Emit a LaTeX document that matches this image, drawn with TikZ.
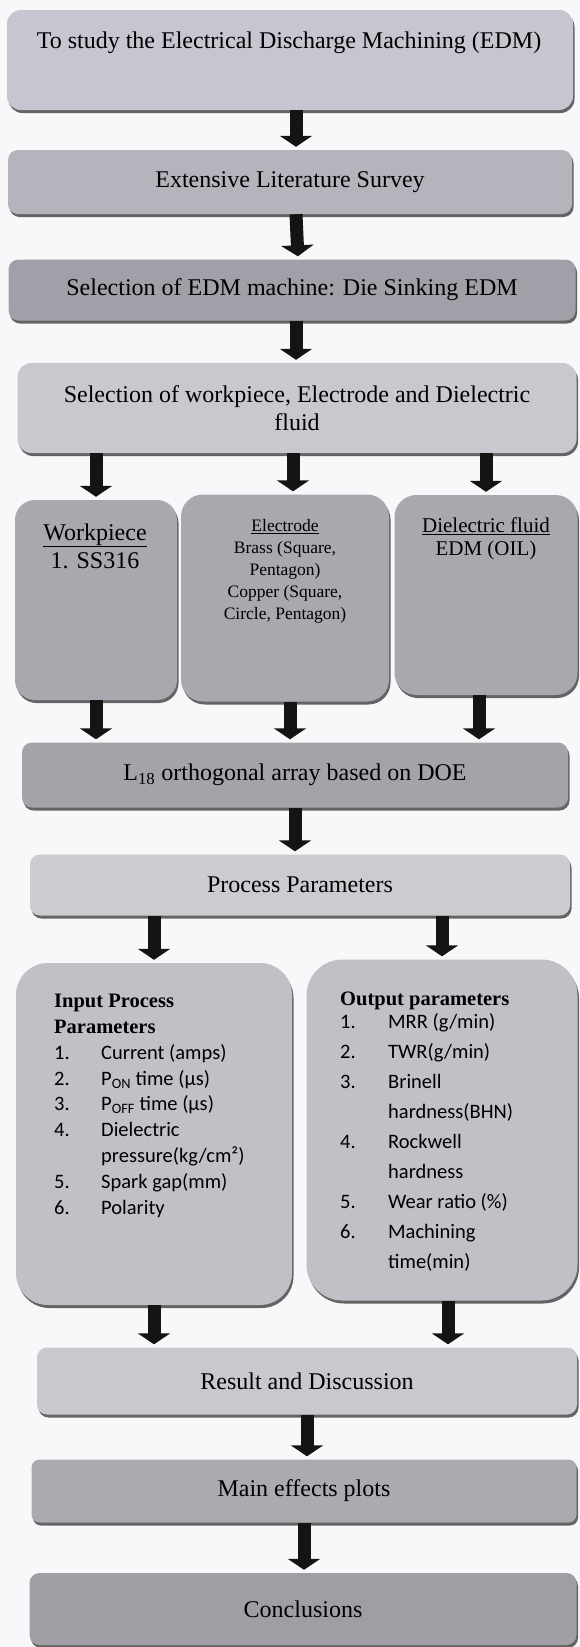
\documentclass[tikz,border=0pt]{standalone}
\usepackage{fontspec}
\setmainfont{Liberation Serif}
\newfontfamily\calfont{Carlito}
\usetikzlibrary{shadows,arrows.meta,calc}
\definecolor{bgc}{RGB}{248,248,250}
\definecolor{cA}{RGB}{198,198,208}
\definecolor{cB}{RGB}{180,180,189}
\definecolor{cC}{RGB}{160,160,168}
\definecolor{cD}{RGB}{200,200,206}
\definecolor{cE}{RGB}{168,168,175}
\definecolor{cF}{RGB}{163,163,170}
\definecolor{cG}{RGB}{203,203,208}
\definecolor{cH}{RGB}{192,192,199}
\definecolor{cI}{RGB}{201,201,205}
\definecolor{cJ}{RGB}{170,170,176}
\definecolor{cK}{RGB}{158,158,164}
\begin{document}
\begin{tikzpicture}[x=1pt,y=-1pt,
  box/.style={draw=none, rounded corners=#1, inner sep=0pt, align=center,
    drop shadow={shadow xshift=1.5pt,shadow yshift=-3pt,opacity=0.8,fill=black!75},
    font=\fontsize{24}{28}\selectfont},
  box/.default=10pt,
  txt/.style={inner sep=0pt, align=center, font=\fontsize{24}{28}\selectfont},
  lst/.style={inner sep=0pt, align=left, anchor=north west},
  arr/.style={draw=black!92, line width=13pt, -{Triangle[width=32pt,length=11pt]}, shorten >=3pt},
  ]
\fill[bgc] (0,0) rectangle (580,1647);
\useasboundingbox (0,0) rectangle (580,1647);

% boxes
\node[box=14pt, fill=cA, minimum width=566pt, minimum height=100pt] (b1) at (290,60) {};
\node[txt] (b1t) at (289,43) {To study the Electrical Discharge Machining (EDM)};
\node[box, fill=cB, minimum width=564pt, minimum height=64pt] (b2) at (290,182) {Extensive Literature Survey};
\node[box, fill=cC, minimum width=567pt, minimum height=61pt] (b3) at (292,290) {Selection of EDM machine: Die Sinking EDM};
\node[box=14pt, fill=cD, minimum width=559pt, minimum height=90pt] (b4) at (297,408) {Selection of workpiece, Electrode and Dielectric\\ fluid};

\node[box=20pt, fill=cE, minimum width=162pt, minimum height=200pt] (wp) at (96,600) {};
\node[box=22pt, fill=cE, minimum width=208pt, minimum height=207pt] (el) at (285,598) {};
\node[box=22pt, fill=cE, minimum width=183pt, minimum height=200pt] (df) at (486,595) {};
\node[txt] (wpt) at (95,546) {\underline{Workpiece}\\ 1. SS316};
\node[txt, font=\fontsize{17.5}{22}\selectfont] (elt) at (285,571) {\underline{Electrode}\\ Brass (Square,\\ Pentagon)\\ Copper (Square,\\ Circle, Pentagon)};
\node[txt, font=\fontsize{21}{22.5}\selectfont] (dft) at (486,539) {\underline{Dielectric fluid}\\ EDM (OIL)};

\node[box, fill=cF, minimum width=546pt, minimum height=65pt] (l18) at (295,775) {L\textsubscript{18} orthogonal array based on DOE};
\node[box, fill=cG, minimum width=540pt, minimum height=61pt] (pp) at (300,885) {Process Parameters};

\node[box=32pt, fill=cH, minimum width=276pt, minimum height=342pt] (ip) at (154,1134) {};
\node[box=36pt, fill=cH, minimum width=271pt, minimum height=341pt] (op) at (442,1130) {};

\node[lst, font=\calfont\fontsize{20.5}{25.8}\selectfont] (ipt) at (54,994) {%
{\rmfamily\bfseries Input Process}\\
{\rmfamily\bfseries Parameters}\\
\makebox[47pt][l]{1.}Current (amps)\\
\makebox[47pt][l]{2.}P\textsubscript{ON} time (µs)\\
\makebox[47pt][l]{3.}P\textsubscript{OFF} time (µs)\\
\makebox[47pt][l]{4.}Dielectric\\
\makebox[47pt][l]{}pressure(kg/cm²)\\
\makebox[47pt][l]{5.}Spark gap(mm)\\
\makebox[47pt][l]{6.}Polarity};

\node[lst, font=\calfont\fontsize{20.5}{30}\selectfont] (opt) at (340,992) {%
{\rmfamily\bfseries Output parameters}\\[-7pt]
\makebox[48pt][l]{1.}MRR (g/min)\\
\makebox[48pt][l]{2.}TWR(g/min)\\
\makebox[48pt][l]{3.}Brinell\\
\makebox[48pt][l]{}hardness(BHN)\\
\makebox[48pt][l]{4.}Rockwell\\
\makebox[48pt][l]{}hardness\\
\makebox[48pt][l]{5.}Wear ratio (\%)\\
\makebox[48pt][l]{6.}Machining\\
\makebox[48pt][l]{}time(min)};

\node[box, fill=cI, minimum width=540pt, minimum height=67pt] (res) at (307,1381) {Result and Discussion};
\node[box=8pt, fill=cJ, minimum width=545pt, minimum height=63pt] (me) at (304,1491) {Main effects plots};
\node[box, fill=cK, minimum width=547pt, minimum height=72pt] (con) at (303,1609) {Conclusions};

% arrows
\draw[arr] ([xshift=6pt]b1.south) -- ([xshift=6pt]b2.north);
\draw[arr] ([xshift=6pt]b2.south) -- ([xshift=6pt]b3.north);
\draw[arr] ([xshift=4pt]b3.south) -- ([xshift=4pt]b3.south |- b4.north);
\draw[arr] (b4.south -| wp.north) -- (wp.north);
\draw[arr] ([xshift=8pt]b4.south -| el.north) -- ([xshift=8pt]el.north);
\draw[arr] (b4.south -| df.north) -- (df.north);
\draw[arr] (wp.south) -- (wp.south |- l18.north);
\draw[arr] ([xshift=5pt]el.south) -- ([xshift=5pt]el.south |- l18.north);
\draw[arr] ([xshift=-7pt]df.south) -- ([xshift=-7pt]df.south |- l18.north);
\draw[arr] (l18.south) -- (l18.south |- pp.north);
\draw[arr] (pp.south -| ip.north) -- (ip.north);
\draw[arr] (pp.south -| op.north) -- (op.north);
\draw[arr] (ip.south) -- (ip.south |- res.north);
\draw[arr] ([xshift=6pt]op.south) -- ([xshift=6pt]op.south |- res.north);
\draw[arr] (res.south) -- (res.south |- me.north);
\draw[arr] (me.south) -- (me.south |- con.north);
\end{tikzpicture}
\end{document}
